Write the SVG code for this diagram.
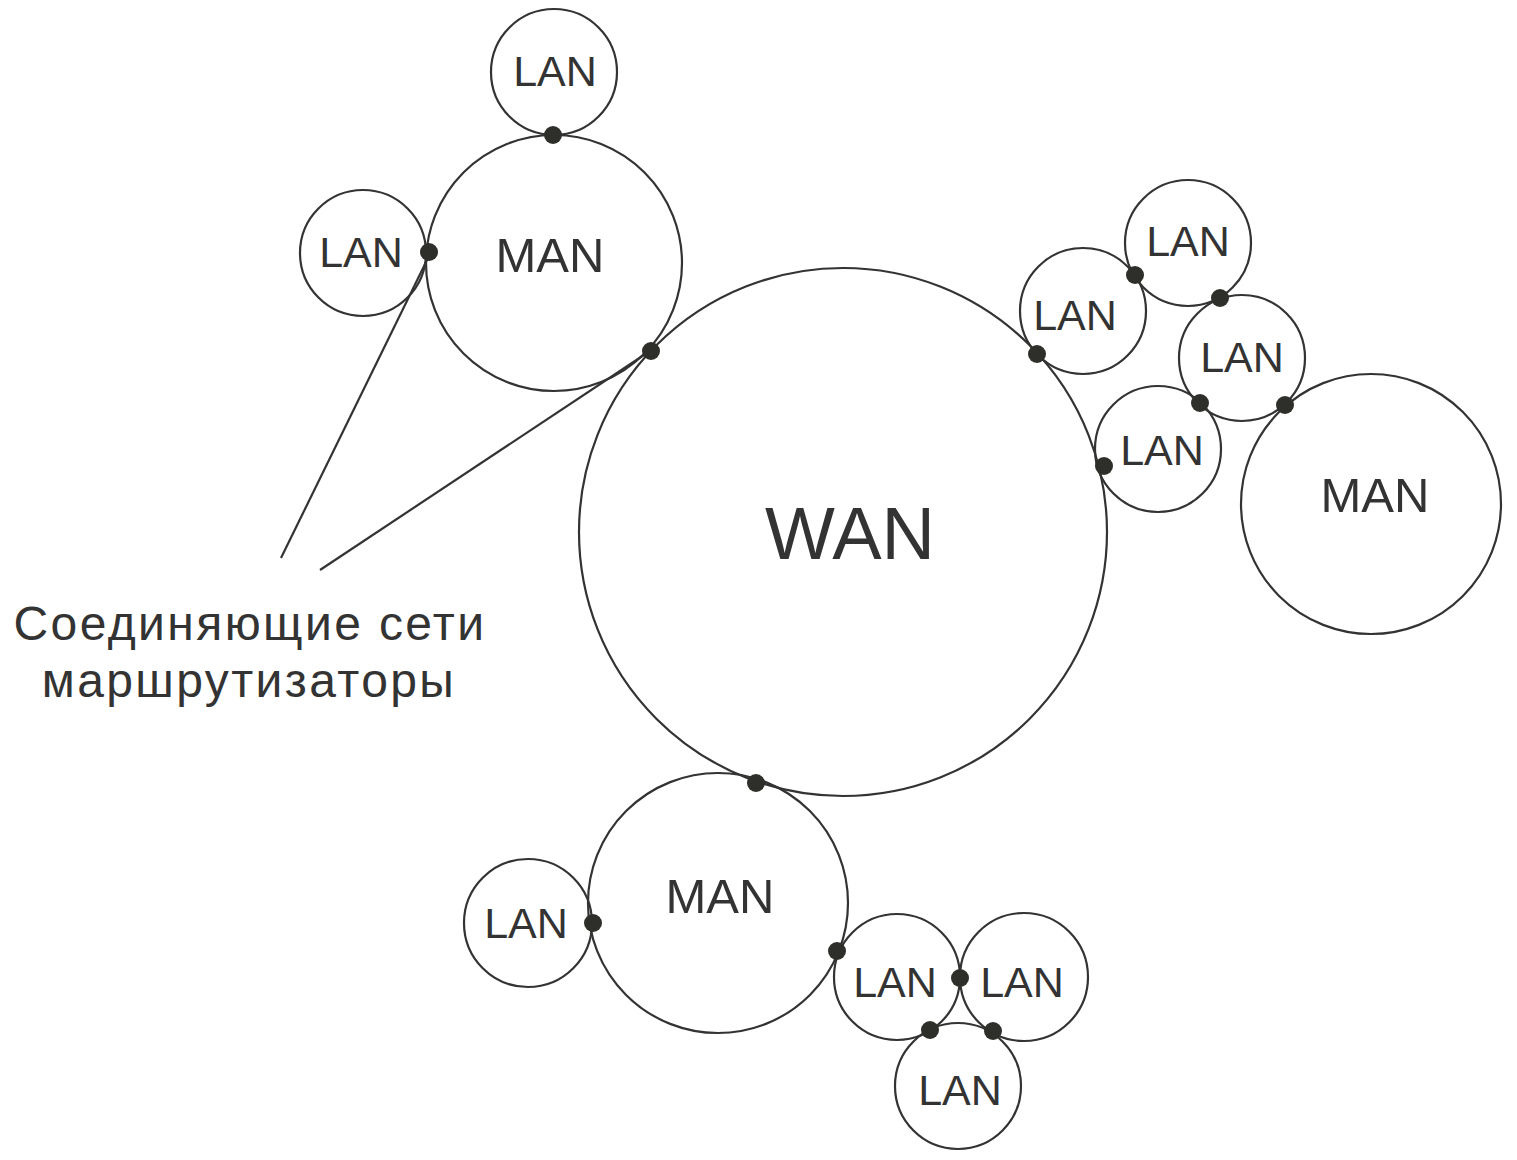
<svg xmlns="http://www.w3.org/2000/svg" width="1517" height="1160" viewBox="0 0 1517 1160">
<style>
.net{fill:none;stroke:#333;stroke-width:2.2}
.dot{fill:#2e2e2a}
.lan{font-family:"Liberation Sans",Arial,sans-serif;font-size:43px;fill:#333;text-anchor:middle}
.man{font-family:"Liberation Sans",Arial,sans-serif;font-size:49px;fill:#333;text-anchor:middle}
.wan{font-family:"Liberation Sans",Arial,sans-serif;font-size:74px;fill:#333;text-anchor:middle}
.cap{font-family:"Liberation Sans",Arial,sans-serif;font-size:48px;fill:#333;text-anchor:middle;letter-spacing:2.4px}
.lead{stroke:#333;stroke-width:2.2;fill:none}
</style>
<rect width="1517" height="1160" fill="#fff"/>
<g id="wan"><circle class="net" cx="843" cy="532" r="264"/><text class="wan" x="850" y="559">WAN</text></g>
<g id="man-top"><circle class="net" cx="554" cy="263" r="128"/><text class="man" x="550" y="272">MAN</text></g>
<g id="lan-top"><circle class="net" cx="554" cy="72" r="63"/><text class="lan" x="555" y="86">LAN</text></g>
<g id="lan-topleft"><circle class="net" cx="363" cy="253" r="63"/><text class="lan" x="361" y="267">LAN</text></g>
<g id="lan-r1"><circle class="net" cx="1188" cy="243" r="63"/><text class="lan" x="1188" y="256">LAN</text></g>
<g id="lan-r2"><circle class="net" cx="1083" cy="311" r="63"/><text class="lan" x="1075" y="330">LAN</text></g>
<g id="lan-r3"><circle class="net" cx="1242" cy="358" r="63"/><text class="lan" x="1242" y="372">LAN</text></g>
<g id="lan-r4"><circle class="net" cx="1158" cy="449" r="63"/><text class="lan" x="1162" y="465">LAN</text></g>
<g id="man-right"><circle class="net" cx="1371" cy="504" r="130"/><text class="man" x="1375" y="512">MAN</text></g>
<g id="man-bottom"><circle class="net" cx="718" cy="903" r="130"/><text class="man" x="720" y="913">MAN</text></g>
<g id="lan-bl"><circle class="net" cx="528" cy="923" r="64"/><text class="lan" x="526" y="938">LAN</text></g>
<g id="lan-b1"><circle class="net" cx="897" cy="977" r="63"/><text class="lan" x="895" y="997">LAN</text></g>
<g id="lan-b2"><circle class="net" cx="1024" cy="977" r="64"/><text class="lan" x="1022" y="997">LAN</text></g>
<g id="lan-b3"><circle class="net" cx="958" cy="1086" r="63"/><text class="lan" x="960" y="1105">LAN</text></g>
<g id="connectors">
<line class="lead" x1="281" y1="558" x2="428" y2="258"/>
<line class="lead" x1="320" y1="570" x2="650" y2="351"/>
<circle class="dot" cx="553" cy="135" r="9"/>
<circle class="dot" cx="429" cy="252" r="9"/>
<circle class="dot" cx="651" cy="351" r="9"/>
<circle class="dot" cx="1037" cy="354" r="9"/>
<circle class="dot" cx="1135" cy="275" r="9"/>
<circle class="dot" cx="1220" cy="298" r="9"/>
<circle class="dot" cx="1200" cy="403" r="9"/>
<circle class="dot" cx="1285" cy="405" r="9"/>
<circle class="dot" cx="1104" cy="466" r="9"/>
<circle class="dot" cx="756" cy="783" r="9"/>
<circle class="dot" cx="593" cy="923" r="9"/>
<circle class="dot" cx="837" cy="951" r="9"/>
<circle class="dot" cx="960" cy="978" r="9"/>
<circle class="dot" cx="930" cy="1030" r="9"/>
<circle class="dot" cx="993" cy="1031" r="9"/>
</g>
<g id="caption">
<text class="cap" x="250" y="640">Соединяющие сети</text>
<text class="cap" x="249" y="697">маршрутизаторы</text>
</g>
</svg>
